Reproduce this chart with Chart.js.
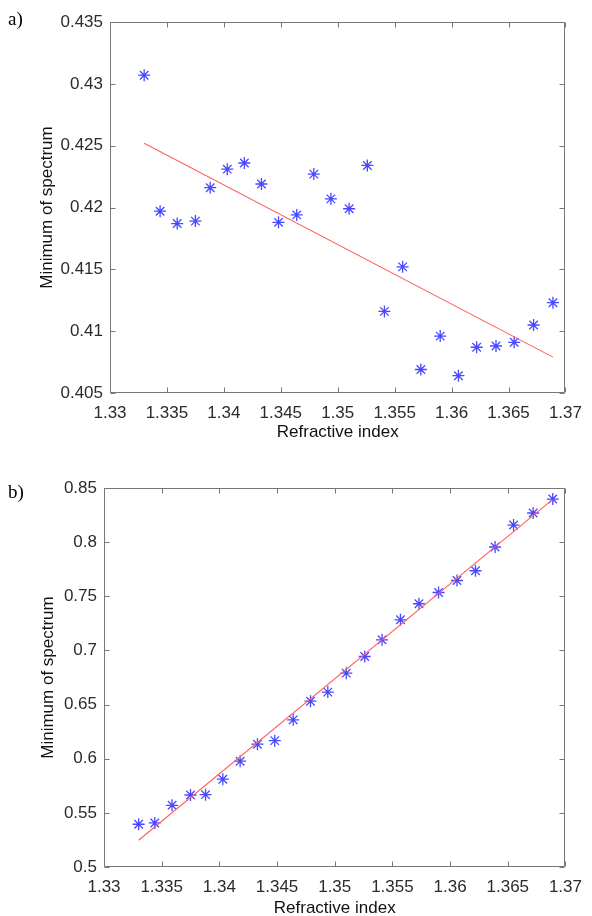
<!DOCTYPE html>
<html>
<head>
<meta charset="utf-8">
<script src="https://cdn.jsdelivr.net/npm/chart.js@4/dist/chart.umd.min.js"></script>
<style>
  html, body { margin: 0; padding: 0; background: #fff; overflow: hidden; width: 592px; height: 916px; }
  canvas { position: absolute; left: 0; }
  #cA { top: 0; }
  #cB { top: 458px; }
  .lbl { position: absolute; font-family: "Liberation Serif", "Times New Roman", serif; font-size: 19px; color: #000; line-height: 1; }
</style>
</head>
<body>
<canvas id="cA" width="592" height="458"></canvas>
<canvas id="cB" width="592" height="462"></canvas>
<div class="lbl" style="left:8px; top:9px;">a)</div>
<div class="lbl" style="left:8px; top:482px;">b)</div>
<script>
// ---- data ----
const refractiveIndex = [1.3330, 1.3344, 1.3359, 1.3375, 1.3388, 1.3403, 1.3418, 1.3433,
                         1.3448, 1.3464, 1.3479, 1.3494, 1.3510, 1.3526, 1.3541, 1.3557,
                         1.3573, 1.3590, 1.3606, 1.3622, 1.3639, 1.3655, 1.3672, 1.3689];
const minimumA = [0.4307, 0.4197, 0.4187, 0.4189, 0.4216, 0.4231, 0.4236, 0.4219,
                  0.4188, 0.4194, 0.4227, 0.4207, 0.4199, 0.4234, 0.4116, 0.4152,
                  0.4069, 0.4096, 0.4064, 0.4087, 0.4088, 0.4091, 0.4105, 0.4123];
const minimumB = [0.5395, 0.5407, 0.5570, 0.5665, 0.5668, 0.5811, 0.5977, 0.6134,
                  0.6167, 0.6359, 0.6531, 0.6615, 0.6790, 0.6944, 0.7098, 0.7283,
                  0.7431, 0.7535, 0.7646, 0.7736, 0.7955, 0.8158, 0.8269, 0.8398];
const fitX = [1.3330, 1.3689];
const fitA = [0.4252, 0.4079];
const fitB = [0.5247, 0.8395];
const xTicks = [1.33, 1.335, 1.34, 1.345, 1.35, 1.355, 1.36, 1.365, 1.37];
const yTicksA = [0.405, 0.41, 0.415, 0.42, 0.425, 0.43, 0.435];
const yTicksB = [0.5, 0.55, 0.6, 0.65, 0.7, 0.75, 0.8, 0.85];
const xTitle = 'Refractive index';
const yTitle = 'Minimum of spectrum';

const FONT = "'Liberation Sans', Arial, sans-serif";
const TXT = '#2b2b2b';

const boxPlugin = {
  id: 'matlabBox',
  afterDraw(chart) {
    const { ctx, chartArea: a } = chart;
    const xs = chart.scales.x, ys = chart.scales.y;
    const L = Math.round(a.left) + 0.5, R = Math.round(a.right) - 0.5;
    const T = Math.round(a.top) + 0.5, B = Math.round(a.bottom) - 0.5;
    ctx.save();
    ctx.strokeStyle = '#777777';
    ctx.lineWidth = 1;
    ctx.beginPath();
    ctx.rect(L, T, R - L, B - T);
    const tl = 5;
    xs.ticks.forEach(t => {
      const p = Math.round(xs.getPixelForValue(t.value)) + 0.5;
      ctx.moveTo(p, B); ctx.lineTo(p, B - tl);
      ctx.moveTo(p, T); ctx.lineTo(p, T + tl);
    });
    ys.ticks.forEach(t => {
      const p = Math.round(ys.getPixelForValue(t.value)) + 0.5;
      ctx.moveTo(L, p); ctx.lineTo(L + tl, p);
      ctx.moveTo(R, p); ctx.lineTo(R - tl, p);
    });
    ctx.stroke();
    ctx.restore();
  }
};

function pts(xs, ys) { return xs.map((x, i) => ({ x: x, y: ys[i] })); }
function fmt(v) { return parseFloat(Number(v).toFixed(4)).toString(); }

function makeChart(id, ys, fit, yTicks, g) {
  return new Chart(document.getElementById(id), {
    type: 'scatter',
    data: {
      datasets: [
        {
          data: pts(fitX, fit), showLine: true, order: 0,
          borderColor: 'rgb(255,95,95)', borderWidth: 1.1, pointRadius: 0, fill: false
        },
        {
          data: pts(refractiveIndex, ys), order: 1,
          pointStyle: 'star', pointRadius: 6, borderWidth: 1.3,
          borderColor: 'rgba(40,40,255,0.85)', backgroundColor: 'rgba(40,40,255,0.85)'
        }
      ]
    },
    options: {
      responsive: false, animation: false, devicePixelRatio: 1,
      layout: { padding: { left: 0, top: g.top, right: g.right, bottom: 0 } },
      plugins: { legend: { display: false }, tooltip: { enabled: false } },
      scales: {
        x: {
          type: 'linear', min: xTicks[0], max: xTicks[xTicks.length - 1],
          afterBuildTicks: s => { s.ticks = xTicks.map(v => ({ value: v })); },
          afterFit: s => { s.height = g.xh; },
          grid: { display: false, drawTicks: false }, border: { display: false },
          ticks: { font: { family: FONT, size: 17 }, color: TXT, padding: g.xpad, maxRotation: 0, autoSkip: false, callback: fmt },
          title: { display: true, text: xTitle, font: { family: FONT, size: 17 }, color: '#111', padding: { top: 0, bottom: g.xtb } }
        },
        y: {
          type: 'linear', min: yTicks[0], max: yTicks[yTicks.length - 1],
          afterBuildTicks: s => { s.ticks = yTicks.map(v => ({ value: v })); },
          afterFit: s => { s.width = g.yw; },
          grid: { display: false, drawTicks: false }, border: { display: false },
          ticks: { font: { family: FONT, size: 17 }, color: TXT, padding: 7, autoSkip: false, callback: fmt },
          title: { display: true, text: yTitle, font: { family: FONT, size: 17 }, color: '#111', padding: { top: g.ytp, bottom: 0 } }
        }
      }
    },
    plugins: [boxPlugin]
  });
}

makeChart('cA', minimumA, fitA, yTicksA, { top: 22, right: 17, xh: 65, yw: 110, xpad: 10, xtb: 15, ytp: 37 });
makeChart('cB', minimumB, fitB, yTicksB, { top: 30, right: 13, xh: 53, yw: 104, xpad: 10, xtb: 1, ytp: 38 });
</script>
</body>
</html>
